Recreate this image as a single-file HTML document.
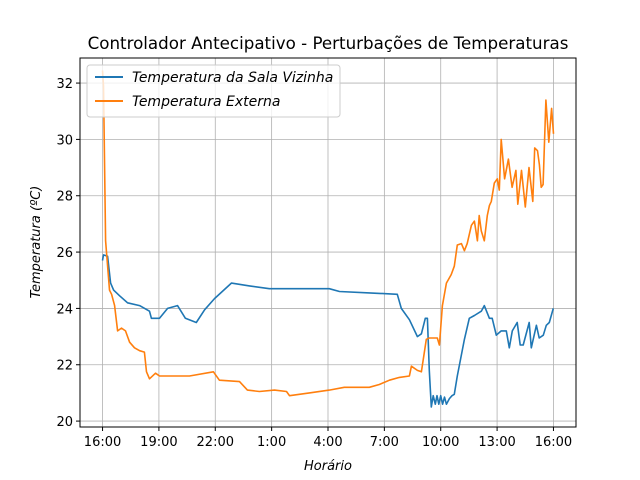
<!DOCTYPE html>
<html><head><meta charset="utf-8"><style>
body{margin:0;background:#fff}
svg{display:block;font-family:"DejaVu Sans","Liberation Sans",sans-serif}
</style></head><body>
<svg id="chart" width="640" height="480" viewBox="0 0 640 480">
<rect width="640" height="480" fill="#fff"/>
<text x="328" y="49" text-anchor="middle" font-size="16.7">Controlador Antecipativo - Perturbações de Temperaturas</text>
<g id="grid"></g>
<g id="series"></g>
<rect x="80" y="58" width="496" height="369" fill="none" stroke="#000" stroke-width="1"/>
<g id="ticks"></g>
<text x="328" y="470" text-anchor="middle" font-size="13" font-style="italic">Horário</text>
<text transform="translate(40,242) rotate(-90)" text-anchor="middle" font-size="13" font-style="italic">Temperatura (ºC)</text>
<g>
<rect x="87" y="65" width="253" height="52" rx="3" fill="#fff" fill-opacity="0.8" stroke="#ccc"/>
<line x1="95" y1="77" x2="123" y2="77" stroke="#1f77b4" stroke-width="2"/>
<text x="132" y="82" font-size="14" font-style="italic">Temperatura da Sala Vizinha</text>
<line x1="95" y1="101" x2="123" y2="101" stroke="#ff7f0e" stroke-width="2"/>
<text x="132" y="106" font-size="14" font-style="italic">Temperatura Externa</text>
</g>
</svg>
<script>
const xTickLabels=["16:00","19:00","22:00","1:00","4:00","7:00","10:00","13:00","16:00"];
const xTickHours=[0,3,6,9,12,15,18,21,24];
const yTicks=[20,22,24,26,28,30,32];
const salaHours=[0,0.05,0.27,0.43,0.59,0.9,1.33,1.97,2.5,2.6,3.03,3.46,3.99,4.41,4.99,5.43,5.96,6.86,7.82,8.88,12.07,12.61,14.2,15.69,15.9,16.33,16.76,16.97,17.18,17.29,17.39,17.5,17.6,17.71,17.8,17.9,18.0,18.1,18.2,18.3,18.46,18.6,18.72,18.88,19.26,19.52,19.79,20.16,20.32,20.59,20.74,20.96,21.22,21.49,21.65,21.81,22.07,22.23,22.39,22.71,22.82,23.09,23.24,23.46,23.62,23.78,23.99];
const salaTemps=[25.7,25.9,25.85,24.9,24.65,24.45,24.2,24.1,23.9,23.65,23.65,24.0,24.1,23.65,23.5,23.95,24.35,24.9,24.8,24.7,24.7,24.6,24.55,24.5,24.0,23.6,23.0,23.1,23.65,23.65,21.8,20.5,20.9,20.6,20.9,20.6,20.9,20.6,20.85,20.6,20.8,20.9,20.95,21.6,22.9,23.65,23.75,23.9,24.1,23.65,23.65,23.05,23.2,23.2,22.6,23.2,23.5,22.7,22.7,23.5,22.6,23.4,22.95,23.05,23.4,23.5,24.0];
const extHours=[0,0.05,0.16,0.37,0.48,0.64,0.8,1.01,1.22,1.44,1.7,1.97,2.23,2.34,2.5,2.82,3.03,3.56,4.63,5.9,6.22,7.29,7.71,8.35,9.15,9.79,9.95,11.01,12.07,12.87,14.2,14.73,15.27,15.8,16.33,16.44,16.76,16.97,17.23,17.39,17.82,17.93,18.09,18.3,18.56,18.72,18.88,19.1,19.26,19.41,19.63,19.79,19.95,20.05,20.16,20.32,20.48,20.59,20.69,20.85,21.01,21.12,21.22,21.4,21.6,21.8,22.0,22.1,22.3,22.5,22.7,22.9,23.0,23.15,23.25,23.35,23.45,23.6,23.75,23.9,24.0];
const extTemps=[32.45,31.9,26.4,24.65,24.5,24.1,23.2,23.3,23.2,22.8,22.6,22.5,22.45,21.75,21.5,21.7,21.6,21.6,21.6,21.75,21.45,21.4,21.1,21.05,21.1,21.05,20.9,21.0,21.1,21.2,21.2,21.3,21.45,21.55,21.6,21.95,21.8,21.75,22.9,22.95,22.95,22.7,24.1,24.9,25.2,25.5,26.25,26.3,26.05,26.3,26.95,27.1,26.4,27.3,26.75,26.4,27.3,27.65,27.8,28.45,28.6,28.2,30.0,28.6,29.3,28.3,28.9,27.7,28.9,27.6,29.0,27.8,29.7,29.6,29.1,28.3,28.4,31.4,29.9,31.1,30.2];
const X0=80,X1=576,Y0=58,Y1=427,xmin=-1.2,xmax=25.2,ymin=19.79,ymax=32.89;
const sx=h=>X0+(h-xmin)/(xmax-xmin)*(X1-X0);
const sy=t=>Y1-(t-ymin)/(ymax-ymin)*(Y1-Y0);
const NS="http://www.w3.org/2000/svg";
const grid=document.getElementById('grid'),ticks=document.getElementById('ticks'),series=document.getElementById('series');
function mk(tag,attrs,parent){const e=document.createElementNS(NS,tag);for(const k in attrs)e.setAttribute(k,attrs[k]);parent.appendChild(e);return e;}
xTickHours.forEach((h,i)=>{const x=sx(h);
 const g=mk('line',{x1:x,x2:x,y1:Y0,y2:Y1,stroke:'#b0b0b0','stroke-width':0.8},grid);
 
 
 const t=mk('line',{x1:x,x2:x,y1:Y1,y2:Y1+4,stroke:'#000'},ticks);
 
 
 const l=mk('text',{x:x,y:Y1+19,'text-anchor':'middle','font-size':13},ticks);l.textContent=xTickLabels[i];
 
 
});
yTicks.forEach(v=>{const y=sy(v);
 const g=mk('line',{x1:X0,x2:X1,y1:y,y2:y,stroke:'#b0b0b0','stroke-width':0.8},grid);
 
 
 const t=mk('line',{x1:X0-4,x2:X0,y1:y,y2:y,stroke:'#000'},ticks);
 
 
 const l=mk('text',{x:X0-7,y:y+5,'text-anchor':'end','font-size':13},ticks);l.textContent=v;
 
 
});
function line(hs,ts,color,name){
 const d=hs.map((h,i)=>(i?'L':'M')+sx(h).toFixed(1)+' '+sy(ts[i]).toFixed(1)).join(' ');
 const p=mk('path',{d:d,fill:'none',stroke:color,'stroke-width':1.6,'stroke-linejoin':'round'},series);
 
 
}
line(salaHours,salaTemps,'#1f77b4','line-sala-vizinha');
line(extHours,extTemps,'#ff7f0e','line-externa');
</script>
</body></html>
